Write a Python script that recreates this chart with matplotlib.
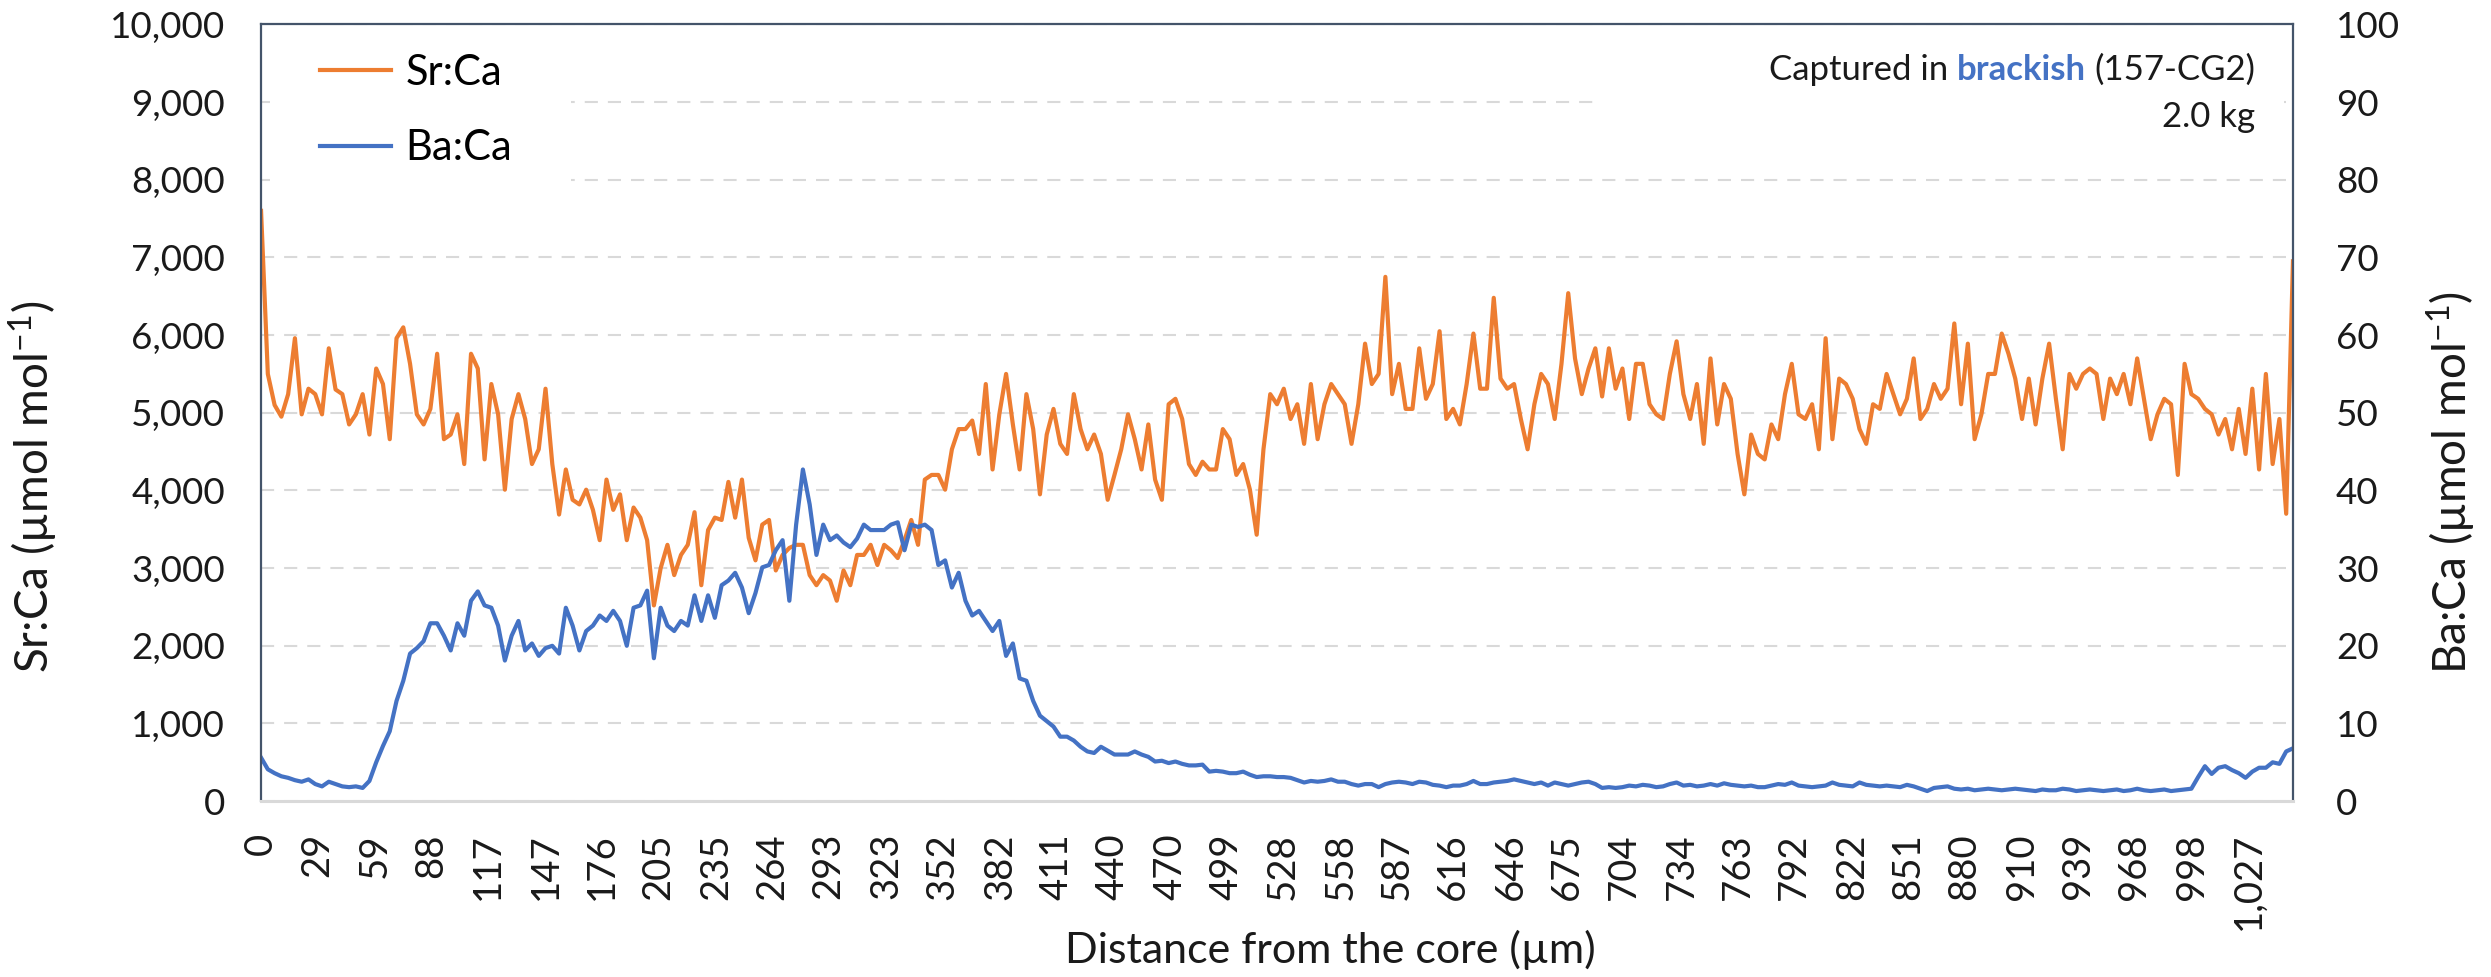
import matplotlib

matplotlib.use("Agg")
import matplotlib.pyplot as plt
import numpy as np
from matplotlib.offsetbox import AnchoredOffsetbox, HPacker, TextArea, VPacker
from matplotlib.patches import Rectangle
from matplotlib.ticker import FuncFormatter

# Perfil laser del otolito: una lectura cada STEP_UM micras desde el nucleo
STEP_UM = 3.5

SR_CA = [
    7600, 5500, 5100, 4950, 5240, 5960, 4980, 5310, 5240, 4980,
    5830, 5300, 5240, 4850, 4980, 5240, 4720, 5570, 5370, 4660,
    5960, 6100, 5630, 4980, 4850, 5050, 5760, 4660, 4720, 4980,
    4340, 5760, 5570, 4400, 5370, 4980, 4010, 4920, 5240, 4920,
    4340, 4530, 5310, 4340, 3690, 4270, 3880, 3820, 4010, 3750,
    3360,
    4140, 3750, 3950, 3360, 3780, 3650, 3360, 2520, 3000, 3300,
    2910, 3170, 3300, 3720, 2780, 3490, 3650, 3620, 4110, 3650,
    4140, 3390, 3100, 3560, 3620, 2970, 3170, 3260, 3300, 3300,
    2910, 2780, 2910, 2840, 2580, 2970, 2780, 3170, 3170, 3300,
    3040, 3300, 3230, 3130, 3360, 3620, 3300, 4140, 4200, 4200,
    4010, 4530, 4790, 4790, 4900, 4470, 5370, 4270, 4980, 5500,
    4850, 4270, 5240, 4790, 3950, 4720, 5050, 4600, 4470, 5240,
    4790, 4530, 4720, 4470, 3880, 4200, 4530, 4980, 4660, 4270,
    4850, 4140, 3880, 5110, 5180, 4920, 4340, 4200, 4370, 4270,
    4270, 4790, 4660, 4200, 4340, 4010, 3430, 4530, 5240, 5110,
    5310, 4920, 5110, 4600, 5370, 4660, 5110, 5370, 5240, 5110,
    4600, 5110, 5890, 5370, 5500, 6750, 5240, 5630, 5050, 5050,
    5830, 5180, 5370, 6050, 4920, 5050, 4850, 5370, 6020, 5310,
    5310, 6480, 5440, 5310, 5370, 4920, 4530, 5110, 5500, 5370,
    4920, 5630, 6540, 5700, 5240, 5570, 5830, 5210, 5830, 5310,
    5570, 4920, 5630, 5630, 5110, 4980, 4920, 5500, 5920, 5240,
    4920, 5370, 4600, 5700, 4850, 5370, 5180, 4470, 3950, 4720,
    4470, 4400, 4850, 4660, 5240, 5630, 4980, 4920, 5110, 4530,
    5960, 4660, 5440, 5370, 5180, 4790, 4600, 5110, 5050, 5500,
    5240, 4980, 5180, 5700, 4920, 5050, 5370, 5180, 5310, 6150,
    5110, 5890, 4660, 4980, 5500, 5500, 6020, 5760, 5440, 4920,
    5440, 4850, 5440, 5890, 5180, 4530, 5500, 5310, 5500, 5570,
    5500, 4920, 5440, 5240, 5500, 5110, 5700, 5180, 4660, 4980,
    5180, 5110, 4200, 5630, 5240, 5180, 5050, 4980, 4720, 4920,
    4530, 5050, 4470, 5310, 4270, 5500, 4340, 4920, 3700, 6950,
]

BA_CA = [
    5.6, 4.1, 3.6, 3.2, 3.0, 2.7, 2.5, 2.8, 2.2, 1.9,
    2.5, 2.2, 1.9, 1.8, 1.9, 1.7, 2.6, 5.0, 7.1, 9.0,
    12.9, 15.5, 19.0, 19.7, 20.6, 22.9, 22.9, 21.3, 19.4, 22.9,
    21.3, 25.8, 27.0, 25.2, 24.9, 22.6, 18.1, 21.3, 23.2, 19.4,
    20.3, 18.7, 19.7, 20.0, 19.0, 24.9, 22.6, 19.4, 21.9, 22.6,
    23.9,
    23.2, 24.5, 23.2, 20.0, 24.9, 25.2, 27.1, 18.4, 24.9, 22.6,
    21.9, 23.2, 22.6, 26.5, 23.2, 26.5, 23.6, 27.8, 28.4, 29.4,
    27.5, 24.2, 26.8, 30.1, 30.4, 32.3, 33.6, 25.8, 35.6, 42.7,
    38.2, 31.7, 35.6, 33.6, 34.2, 33.3, 32.7, 33.8, 35.6, 34.9,
    34.9, 34.9, 35.6, 35.9, 32.3, 35.6, 35.3, 35.6, 34.9, 30.4,
    31.0, 27.5, 29.4, 25.8, 23.9, 24.5, 23.2, 21.9, 23.2, 18.7,
    20.3, 15.8, 15.5, 12.9, 11.0, 10.3, 9.6, 8.3, 8.3, 7.8,
    7.0, 6.4, 6.2, 7.0, 6.5, 6.0, 6.0, 6.0, 6.4, 6.0,
    5.7, 5.1, 5.2, 4.9, 5.1, 4.8, 4.6, 4.6, 4.7, 3.8,
    3.9, 3.8, 3.6, 3.6, 3.8, 3.4, 3.1, 3.2, 3.2, 3.1,
    3.1, 3.0, 2.7, 2.4, 2.6, 2.5, 2.6, 2.8, 2.5, 2.5,
    2.2, 2.0, 2.2, 2.2, 1.8, 2.2, 2.4, 2.5, 2.4, 2.2,
    2.5, 2.4, 2.1, 2.0, 1.8, 2.0, 2.0, 2.2, 2.6, 2.2,
    2.2, 2.4, 2.5, 2.6, 2.8, 2.6, 2.4, 2.2, 2.4, 2.0,
    2.4, 2.2, 2.0, 2.2, 2.4, 2.5, 2.2, 1.7, 1.8, 1.7,
    1.8, 2.0, 1.9, 2.1, 2.0, 1.8, 1.9, 2.2, 2.4, 2.0,
    2.1, 1.9, 2.0, 2.2, 2.0, 2.3, 2.1, 2.0, 1.9, 2.0,
    1.8, 1.8, 2.0, 2.2, 2.1, 2.4, 2.0, 1.9, 1.8, 1.9,
    2.0, 2.4, 2.1, 2.0, 1.9, 2.4, 2.1, 2.0, 1.9, 2.0,
    1.9, 1.8, 2.1, 1.9, 1.6, 1.3, 1.7, 1.8, 1.9, 1.6,
    1.5, 1.6, 1.4, 1.5, 1.6, 1.5, 1.4, 1.5, 1.6, 1.5,
    1.4, 1.3, 1.5, 1.4, 1.4, 1.6, 1.5, 1.3, 1.4, 1.5,
    1.4, 1.3, 1.4, 1.5, 1.3, 1.4, 1.6, 1.4, 1.3, 1.4,
    1.5, 1.3, 1.4, 1.5, 1.6, 3.1, 4.5, 3.5, 4.3, 4.5,
    4.0, 3.6, 3.0, 3.8, 4.3, 4.3, 5.0, 4.8, 6.4, 6.8,
]

X_TICKS_UM = [0, 29, 59, 88, 117, 147, 176, 205, 235, 264, 293, 323, 352, 382,
              411, 440, 470, 499, 528, 558, 587, 616, 646, 675, 704, 734, 763,
              792, 822, 851, 880, 910, 939, 968, 998, 1027]
SR_TICKS = list(range(0, 10001, 1000))
BA_TICKS = list(range(0, 101, 10))

NARANJA = "#ED7D31"
AZUL = "#4472C4"
MARCO = "#44546A"
REJILLA = "#D9D9D9"
TEXTO = "#1a1a1a"

plt.rcParams["font.family"] = ["Lato", "DejaVu Sans"]
plt.rcParams["mathtext.fontset"] = "custom"
plt.rcParams["mathtext.rm"] = "Lato"
plt.rcParams["mathtext.it"] = "Lato:italic"
plt.rcParams["mathtext.bf"] = "Lato:bold"

dist_sr = np.arange(len(SR_CA)) * STEP_UM
dist_ba = np.arange(len(BA_CA)) * STEP_UM

fig = plt.figure(figsize=(24.91, 9.77), dpi=100)
ax = fig.add_axes([0.1048, 0.180, 0.8157, 0.795])
ax2 = ax.twinx()

# rejilla discontinua en el eje izquierdo, por debajo de todo
ax.set_axisbelow(True)
ax.yaxis.grid(True, color=REJILLA, linewidth=1.5, linestyle=(0, (6.3, 4.8)))

# huecos blancos en la rejilla detras de la leyenda y del rotulo
ax.add_patch(Rectangle((0.0044, 0.76), 0.148, 0.235, transform=ax.transAxes,
                       facecolor="white", edgecolor="none", zorder=1))
ax.add_patch(Rectangle((0.6575, 0.85), 0.338, 0.145, transform=ax.transAxes,
                       facecolor="white", edgecolor="none", zorder=1))

l_sr, = ax.plot(dist_sr, SR_CA, color=NARANJA, linewidth=3.0, zorder=2, label="Sr:Ca")
l_ba, = ax2.plot(dist_ba, BA_CA, color=AZUL, linewidth=3.0, zorder=2, label="Ba:Ca")

ax.set_xlim(0, 1050)
ax.set_ylim(0, 10000)
ax2.set_ylim(0, 100)

ax.set_xticks(X_TICKS_UM)
ax.set_xticklabels([f"{v:,}" for v in X_TICKS_UM], rotation=90)
ax.set_yticks(SR_TICKS)
ax.yaxis.set_major_formatter(FuncFormatter(lambda v, _: f"{v:,.0f}"))
ax2.set_yticks(BA_TICKS)

ax.tick_params(axis="x", length=0, pad=23, labelsize=27.5, labelcolor=TEXTO)
ax.tick_params(axis="y", length=0, pad=26, labelsize=26.5, labelcolor=TEXTO)
ax2.tick_params(axis="y", length=0, pad=31, labelsize=26.5, labelcolor=TEXTO)

for sp in ax.spines.values():
    sp.set_visible(False)
for nombre in ("left", "top", "right"):
    ax2.spines[nombre].set_color(MARCO)
    ax2.spines[nombre].set_linewidth(1.6)
ax2.spines["bottom"].set_color(REJILLA)
ax2.spines["bottom"].set_linewidth(2.2)

ax.set_xlabel("Distance from the core (µm)", fontsize=31, color=TEXTO)
ax.xaxis.set_label_coords(0.526, -0.192)
ax.xaxis.label.set_verticalalignment("center")
ax.set_ylabel(r"Sr:Ca (µmol mol$^{\mathrm{-1}}$)", fontsize=33, color=TEXTO)
ax.yaxis.set_label_coords(-0.112, 0.405)
ax.yaxis.label.set_verticalalignment("center")
ax2.set_ylabel(r"Ba:Ca (µmol mol$^{\mathrm{-1}}$)", fontsize=33, color=TEXTO, rotation=90)
ax2.yaxis.set_label_coords(1.078, 0.41)
ax2.yaxis.label.set_verticalalignment("center")

ax2.legend(handles=[l_sr, l_ba], loc="upper left", bbox_to_anchor=(0.029, 0.962),
           frameon=False, fontsize=30, handlelength=1.71, handletextpad=0.34,
           labelspacing=0.9, borderaxespad=0, borderpad=0)

# rotulo de la muestra, con "brackish" en azul y negrita
props = dict(fontsize=25, color=TEXTO)
fila1 = HPacker(children=[
    TextArea("Captured in", textprops=props),
    TextArea("brackish", textprops=dict(fontsize=25, color=AZUL, fontweight="bold")),
    TextArea("(157-CG2)", textprops=props),
], align="baseline", pad=0, sep=6)
fila2 = TextArea("2.0 kg", textprops=props)
rotulo = VPacker(children=[fila1, fila2], align="right", pad=0, sep=10.5)
ax2.add_artist(AnchoredOffsetbox(loc="upper right", child=rotulo, frameon=False,
                                 bbox_to_anchor=(0.984, 0.969),
                                 bbox_transform=ax2.transAxes, borderpad=0))

fig.savefig("out.png", dpi=100)
